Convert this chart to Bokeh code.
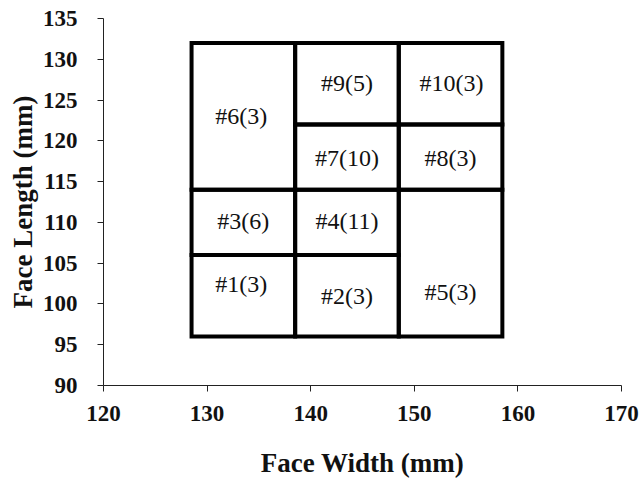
from bokeh.plotting import figure
from bokeh.models import ColumnDataSource, FixedTicker, Range1d
from bokeh.core.properties import value
from bokeh.embed import file_html
from bokeh.resources import INLINE

# Cells: zone boundaries (face width x, face length y)
cell_names = ["#1(3)", "#2(3)", "#3(6)", "#4(11)", "#5(3)",
              "#6(3)", "#7(10)", "#8(3)", "#9(5)", "#10(3)"]
x_left = [128.5, 138.5, 128.5, 138.5, 148.5, 128.5, 138.5, 148.5, 138.5, 148.5]
x_right = [138.5, 148.5, 138.5, 148.5, 158.5, 138.5, 148.5, 158.5, 148.5, 158.5]
y_bottom = [96, 96, 106, 106, 96, 114, 114, 114, 122, 122]
y_top = [106, 106, 114, 114, 114, 132, 122, 122, 132, 132]
label_x = [133.3, 143.5, 133.5, 143.5, 153.5, 133.3, 143.5, 153.5, 143.5, 153.6]
label_y = [102.4, 101.0, 110.2, 110.2, 101.5, 123.0, 117.9, 117.9, 127.1, 127.1]

x_ticks = [120, 130, 140, 150, 160, 170]
y_ticks = [90, 95, 100, 105, 110, 115, 120, 125, 130, 135]

src = ColumnDataSource(dict(left=x_left, right=x_right, bottom=y_bottom, top=y_top))
lab = ColumnDataSource(dict(x=label_x, y=label_y, t=cell_names))

p = figure(width=642, height=480, output_backend="svg", toolbar_location=None,
           x_range=Range1d(120, 170), y_range=Range1d(90, 135),
           min_border_left=103, min_border_right=21, min_border_top=18, min_border_bottom=94)
p.outline_line_color = None
p.grid.visible = False

p.quad(left="left", right="right", bottom="bottom", top="top", source=src,
       fill_color=None, line_color="black", line_width=4, line_join="miter")
p.text(x="x", y="y", text="t", source=lab, text_align="center", text_baseline="middle",
       text_font=value("Liberation Serif"), text_font_size="24px", text_color="#111111")

font = "Liberation Serif"
for ax in (p.xaxis, p.yaxis):
    ax.axis_line_color = "#222222"
    ax.axis_line_width = 1
    ax.major_tick_line_color = "#222222"
    ax.major_tick_out = 6
    ax.major_tick_in = 0
    ax.minor_tick_line_color = None
    ax.major_label_text_font = font
    ax.major_label_text_font_style = "bold"
    ax.major_label_text_font_size = "23px"
    ax.major_label_text_color = "#111111"
    ax.axis_label_text_font = font
    ax.axis_label_text_font_style = "bold"
    ax.axis_label_text_font_size = "27px"
    ax.axis_label_text_color = "#111111"

p.xaxis.ticker = FixedTicker(ticks=x_ticks)
p.yaxis.ticker = FixedTicker(ticks=y_ticks)
p.xaxis.axis_label = "Face Width (mm)"
p.yaxis.axis_label = "Face Length (mm)"
p.xaxis.major_label_standoff = 14
p.yaxis.major_label_standoff = 20
p.xaxis.axis_label_standoff = 24
p.yaxis.axis_label_standoff = 2

open("out.html", "w").write(file_html(p, INLINE))
